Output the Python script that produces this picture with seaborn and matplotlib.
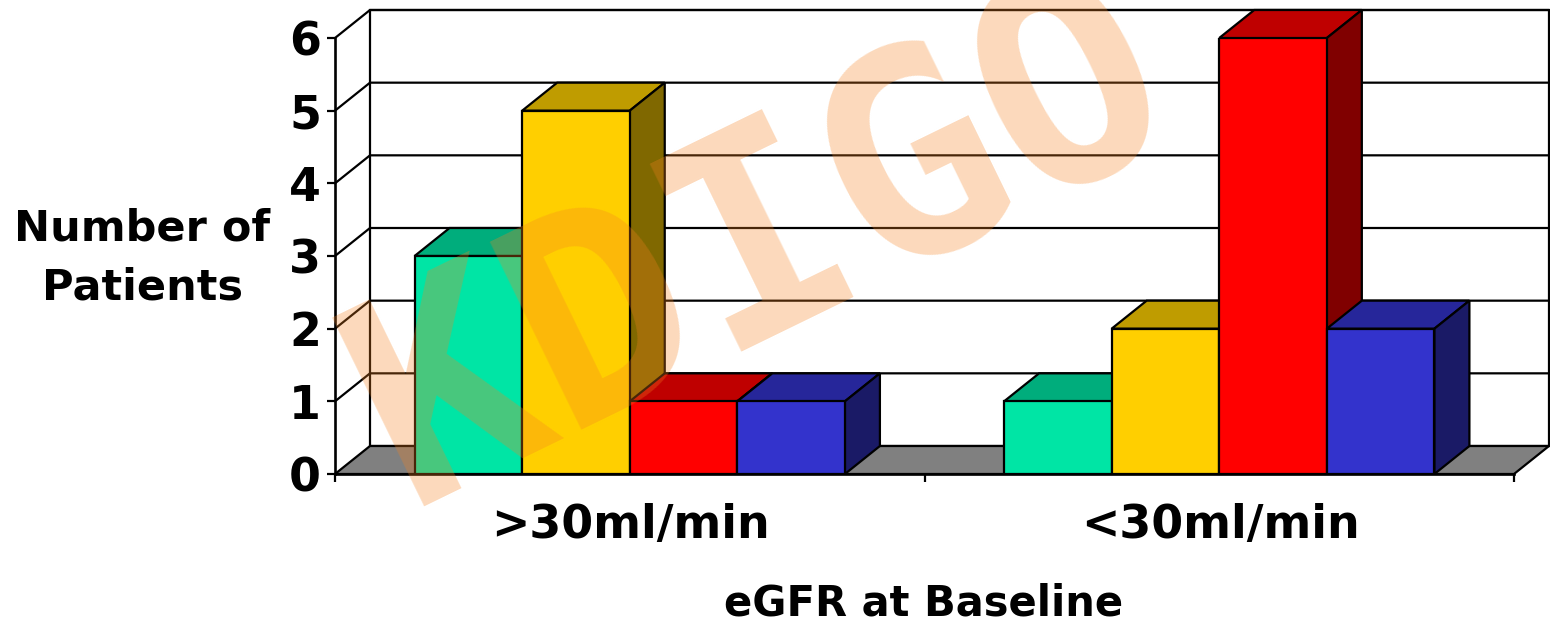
import matplotlib
matplotlib.use("Agg")
import matplotlib.pyplot as plt
from matplotlib.patches import Polygon
import pandas as pd
import seaborn as sns

groups = [">30ml/min", "<30ml/min"]
series = ["a", "b", "c", "d"]
values_a = [3, 1]
values_b = [5, 2]
values_c = [1, 6]
values_d = [1, 2]
front_colors = ["#00E5A5", "#FFCF00", "#FF0000", "#3333CC"]
top_colors = ["#00AD7C", "#BF9C00", "#BF0000", "#26269A"]
side_colors = ["#00735F", "#806800", "#800000", "#1A1A66"]
y_ticks = [0, 1, 2, 3, 4, 5, 6]

W, H = 1550, 623
DX, DY = 35, 28  # depth of the fake 3d, in pixels
LW = 1.6

sns.set_style("white")
plt.rcParams["font.family"] = ["DejaVu Sans"]
plt.rcParams["text.color"] = "black"
plt.rcParams["xtick.color"] = "black"
plt.rcParams["ytick.color"] = "black"

df = pd.DataFrame({"group": groups, "a": values_a, "b": values_b, "c": values_c, "d": values_d})
long_df = df.melt(id_vars="group", var_name="series", value_name="n")

fig = plt.figure(figsize=(W / 100, H / 100), dpi=100)
ax = fig.add_axes([335 / W, 1 - 474 / H, (1514 - 335) / W, (474 - 38) / H])
sns.barplot(data=long_df, x="group", y="n", hue="series", hue_order=series, order=groups,
            palette=front_colors, saturation=1, width=0.73, gap=0, edgecolor="black",
            linewidth=LW, legend=False, ax=ax, zorder=5)
ax.set_xlim(-0.5, 1.5)
ax.set_ylim(0, 6)

# grab the bars before the extra polygons go in
bars = []
for idx, cont in enumerate(ax.containers):
    for b in cont:
        bars.append((b, idx))
bars.sort(key=lambda item: item[0].get_x())


def to_data(px, py):
    # pixel offset to data offset
    return px * 2 / (1514 - 335), py * 6 / (474 - 38)


dx, dy = to_data(DX, DY)
kw = dict(clip_on=False, edgecolor="black", linewidth=LW)

# floor and back wall
ax.add_patch(Polygon([(-0.5, 0), (1.5, 0), (1.5 + dx, dy), (-0.5 + dx, dy)], facecolor="#808080", zorder=1, **kw))
ax.add_patch(Polygon([(-0.5 + dx, dy), (1.5 + dx, dy), (1.5 + dx, 6 + dy), (-0.5 + dx, 6 + dy)],
                     facecolor="white", zorder=0, **kw))
for t in y_ticks[1:]:
    ax.plot([-0.5, -0.5 + dx, 1.5 + dx], [t, t + dy, t + dy], color="black", lw=LW, clip_on=False, zorder=1)

# top and side face for every bar, left to right so neighbours overlap correctly
for i, (b, idx) in enumerate(bars):
    x0, x1, h = b.get_x(), b.get_x() + b.get_width(), b.get_height()
    z = 2 + i * 0.1
    ax.add_patch(Polygon([(x0, h), (x1, h), (x1 + dx, h + dy), (x0 + dx, h + dy)], facecolor=top_colors[idx],
                         zorder=z, **kw))
    ax.add_patch(Polygon([(x1, 0), (x1 + dx, dy), (x1 + dx, h + dy), (x1, h)], facecolor=side_colors[idx],
                         zorder=z, **kw))
    b.set_zorder(z + 0.05)

sns.despine(ax=ax, top=True, right=True)
for s in ["left", "bottom"]:
    ax.spines[s].set_linewidth(LW + 0.3)
    ax.spines[s].set_color("black")
    ax.spines[s].set_zorder(6)

ax.set_yticks(y_ticks)
ax.set_yticklabels([str(t) for t in y_ticks], fontsize=33, fontweight="bold")
ax.set_xticks([-0.5, 0.5, 1.5], minor=False)
ax.set_xticklabels(["", "", ""])
ax.tick_params(axis="both", direction="out", length=6, width=LW, color="black", left=True, bottom=True, pad=4)
ax.set_xlabel("")
ax.set_ylabel("")

# group names sit between the ticks
for i, g in enumerate(groups):
    fig.text((630 if i == 0 else 1220) / W, 1 - 525 / H, g, fontsize=33, fontweight="bold", ha="center", va="center")
fig.text(924 / W, 1 - 604 / H, "eGFR at Baseline", fontsize=30, fontweight="bold", ha="center", va="center")
fig.text(142 / W, 1 - 258 / H, "Number of\nPatients", fontsize=31, fontweight="bold", ha="center", va="center",
         linespacing=1.5)

# watermark, the mono bold gets the serif I and the even letter spacing
fig.text(762 / W, 1 - 246 / H, "KDIGO", fontsize=207, fontweight="bold", family=["DejaVu Sans Mono"],
         color="#F58220", alpha=0.3, rotation=26, ha="center", va="center", zorder=20)

fig.savefig("out.png", dpi=100)
